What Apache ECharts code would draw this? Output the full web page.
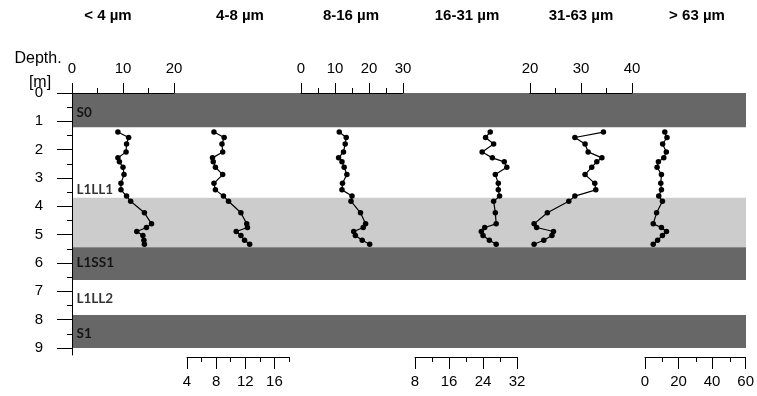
<!DOCTYPE html>
<html><head><meta charset="utf-8">
<script src="https://cdn.jsdelivr.net/npm/echarts@6/dist/echarts.min.js"></script>
<style>html,body{margin:0;padding:0;background:#fff}#c{width:757px;height:396px}</style>
</head><body><div id="c"></div>
<script>
// ---- data ----
const fractions = ['< 4 µm', '4-8 µm', '8-16 µm', '16-31 µm', '31-63 µm', '> 63 µm'];
const depths = [1.38, 1.57, 1.80, 2.08, 2.29, 2.43, 2.62, 2.88, 3.19, 3.42, 3.64, 3.82, 4.23, 4.62, 4.75, 4.89, 5.03, 5.20, 5.34];
const clay        = [9.0, 11.1, 10.7, 10.6, 9.0, 9.3, 10.0, 10.2, 9.6, 9.6, 10.7, 11.5, 14.2, 15.6, 14.6, 12.7, 13.9, 14.1, 14.2];
const fineSilt    = [7.7, 9.1, 8.8, 8.9, 7.5, 7.6, 7.9, 8.9, 7.7, 7.9, 9.0, 9.7, 11.4, 12.2, 12.3, 10.75, 11.4, 11.9, 12.6];
const mediumSilt  = [11.25, 13.3, 13.0, 12.5, 11.05, 12.05, 12.7, 13.5, 12.2, 12.05, 15.0, 14.7, 17.5, 19.0, 18.3, 15.5, 16.0, 18.0, 20.2];
const coarseSilt  = [25.7, 24.6, 26.5, 23.8, 26.2, 29.0, 29.6, 26.9, 27.6, 27.6, 27.9, 26.5, 26.9, 27.1, 24.4, 23.6, 24.0, 25.5, 27.1];
const vCoarseSilt = [34.4, 28.8, 30.8, 31.4, 34.1, 33.1, 32.1, 30.8, 32.7, 32.9, 28.8, 27.6, 23.4, 20.8, 21.3, 24.6, 24.3, 22.7, 20.8];
const sand        = [11.8, 13.1, 10.5, 12.7, 11.2, 8.0, 7.2, 9.8, 9.4, 9.8, 8.2, 10.4, 6.9, 4.9, 9.8, 12.8, 10.4, 7.5, 4.9];
const axisMin = [0, 4, 0, 8, 20, 0];
const axisMax = [20, 18, 30, 32, 40, 60];
const majorTicks = [[0, 10, 20], [4, 8, 12, 16], [0, 10, 20, 30], [8, 16, 24, 32], [20, 30, 40], [0, 20, 40, 60]];
const minorTicks = [[5, 15], [6, 10, 14, 18], [5, 15, 25], [12, 20, 28], [25, 35], [10, 30, 50]];
const axisSide = ['top', 'bottom', 'top', 'bottom', 'top', 'bottom'];
const depthTicks = [0, 1, 2, 3, 4, 5, 6, 7, 8, 9];
const depthMinorTicks = [0.5, 1.5, 2.5, 3.5, 4.5, 5.5, 6.5, 7.5, 8.5];
const bandTop    = [0, 1.22, 3.7, 5.45, 6.6, 7.84];
const bandBottom = [1.22, 3.7, 5.45, 6.6, 7.84, 9.0];
const bandKind   = ['soil', 'loess', 'weak', 'soil', 'loess', 'soil'];
const layerNames  = ['S0', 'L1LL1', 'L1SS1', 'L1LL2', 'S1'];
const layerDepths = [0.7, 3.4, 6.0, 7.25, 8.5];

const profiles = [clay, fineSilt, mediumSilt, coarseSilt, vCoarseSilt, sand];

// ---- layout / style ----
const gridLeft = [72, 187, 301, 415, 530, 645];
const gridW = 102;
const titleX = [108, 240, 351, 467, 581, 697];
const TOP = 93, H = 262, DMAX = 9.25;
const shade = { soil: '#676767', loess: '#ffffff', weak: '#cccccc' };
const tickFont = '"Liberation Sans", Arial, sans-serif';

// grid 0: background + depth axis (major), grid 1: depth minor ticks
const grid = [
  { left: 72, width: 674, top: TOP, height: H },
  { left: 72, width: 674, top: TOP, height: H }
];
const xAxis = [
  { gridIndex: 0, type: 'value', min: 0, max: 1, show: false },
  { gridIndex: 1, type: 'value', min: 0, max: 1, show: false }
];
const yAxis = [
  { gridIndex: 0, type: 'value', inverse: true, min: 0, max: DMAX, position: 'left', z: 10,
    axisLine: { show: true, onZero: false, lineStyle: { color: '#000', width: 1 } },
    axisTick: { show: true, customValues: depthTicks, length: 15, lineStyle: { color: '#000' } },
    axisLabel: { show: true, customValues: depthTicks, margin: 29, fontSize: 15, color: '#000', fontFamily: tickFont },
    splitLine: { show: false } },
  { gridIndex: 1, type: 'value', inverse: true, min: 0, max: DMAX, position: 'left', z: 10,
    axisLine: { show: false, onZero: false },
    axisTick: { show: true, customValues: depthMinorTicks, length: 5, lineStyle: { color: '#000' } },
    axisLabel: { show: false }, splitLine: { show: false } }
];
const series = [
  { type: 'custom', xAxisIndex: 0, yAxisIndex: 0, z: 1, silent: true,
    data: bandTop.map((t, i) => [t, bandBottom[i], i]),
    renderItem: function (params, api) {
      const p0 = api.coord([0, api.value(0)]);
      const p1 = api.coord([1, api.value(1)]);
      return { type: 'rect', shape: { x: p0[0], y: p0[1], width: p1[0] - p0[0], height: p1[1] - p0[1] },
               style: { fill: shade[bandKind[api.value(2)]] } };
    } },
  { type: 'scatter', xAxisIndex: 0, yAxisIndex: 0, z: 5, silent: true, symbolSize: 1,
    itemStyle: { color: 'rgba(0,0,0,0)' },
    data: layerNames.map((n, i) => [0, layerDepths[i], n]),
    label: { show: true, position: 'right', distance: 4, formatter: p => p.data[2],
             fontFamily: 'Lato, "Open Sans", sans-serif', fontWeight: 'bold', fontSize: 13.5, color: '#000' } }
];

profiles.forEach((vals, i) => {
  const gMajor = grid.length, gMinor = grid.length + 1;
  grid.push({ left: gridLeft[i], width: gridW, top: TOP, height: H });
  grid.push({ left: gridLeft[i], width: gridW, top: TOP, height: H });
  const bottom = axisSide[i] === 'bottom';
  const common = { type: 'value', min: axisMin[i], max: axisMax[i], position: axisSide[i],
                   offset: bottom ? 2 : 0, z: 10, splitLine: { show: false } };
  const xMajorIndex = xAxis.length;
  xAxis.push(Object.assign({ gridIndex: gMajor }, common, {
    axisLine: { show: true, onZero: false, lineStyle: { color: '#000', width: 1 } },
    axisTick: { show: true, customValues: majorTicks[i], length: bottom ? 12 : 10, lineStyle: { color: '#000' } },
    axisLabel: { show: true, customValues: majorTicks[i], margin: 17, fontSize: 15, color: '#000', fontFamily: tickFont }
  }));
  xAxis.push(Object.assign({ gridIndex: gMinor }, common, {
    axisLine: { show: false, onZero: false },
    axisTick: { show: true, customValues: minorTicks[i], length: 5, lineStyle: { color: '#000' } },
    axisLabel: { show: false }
  }));
  const yIndex = yAxis.length;
  yAxis.push({ gridIndex: gMajor, type: 'value', inverse: true, min: 0, max: DMAX, show: false });
  yAxis.push({ gridIndex: gMinor, type: 'value', inverse: true, min: 0, max: DMAX, show: false });
  series.push({
    type: 'line', xAxisIndex: xMajorIndex, yAxisIndex: yIndex, z: 6,
    data: depths.map((d, j) => [vals[j], d]),
    symbol: 'circle', symbolSize: 5.5, showSymbol: true,
    lineStyle: { color: '#000', width: 1.2 }, itemStyle: { color: '#000' },
    animation: false
  });
});

const graphic = fractions.map((t, i) => ({
  type: 'text', x: titleX[i], y: 16, z: 20,
  style: { text: t, font: 'bold 15px "Liberation Sans", Arial, sans-serif', fill: '#000',
           align: 'center', verticalAlign: 'middle', textAlign: 'center', textVerticalAlign: 'middle' }
}));
graphic.push({ type: 'text', x: 38, y: 59, z: 20,
  style: { text: 'Depth.', font: '16px "Liberation Sans", Arial, sans-serif', fill: '#000',
           align: 'center', verticalAlign: 'middle', textAlign: 'center', textVerticalAlign: 'middle' } });
graphic.push({ type: 'text', x: 40, y: 83, z: 20,
  style: { text: '[m]', font: '16px "Liberation Sans", Arial, sans-serif', fill: '#000',
           align: 'center', verticalAlign: 'middle', textAlign: 'center', textVerticalAlign: 'middle' } });

const chart = echarts.init(document.getElementById('c'), null, { renderer: 'canvas' });
chart.setOption({ animation: false, backgroundColor: '#fff', grid, xAxis, yAxis, series, graphic });
</script></body></html>
